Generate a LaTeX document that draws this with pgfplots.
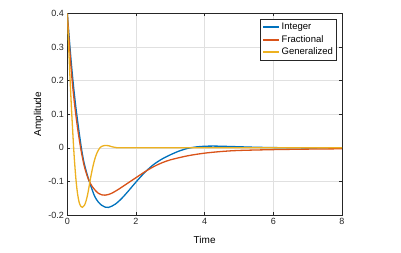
\documentclass[border=0pt]{standalone}
\usepackage{pgfplots}
\pgfplotsset{compat=1.18}
\usepackage{fontspec}
\setmainfont{Liberation Sans}
\definecolor{mblue}{rgb}{0,0.447,0.741}
\definecolor{mred}{rgb}{0.85,0.325,0.098}
\definecolor{myellow}{rgb}{0.929,0.694,0.125}
\definecolor{maxis}{rgb}{0.15,0.15,0.15}
\begin{document}
\begin{tikzpicture}
\path[use as bounding box] (0,0) rectangle (401pt,252pt);
\begin{axis}[
  at={(67.3pt,37pt)}, anchor=south west,
  width=274.7pt, height=201.7pt, scale only axis,
  xmin=0, xmax=8, ymin=-0.2, ymax=0.4,
  xtick={0,2,4,6,8},
  ytick={-0.2,-0.1,0,0.1,0.2,0.3,0.4},
  yticklabels={-0.2,-0.1,0,0.1,0.2,0.3,0.4},
  xticklabels={0,2,4,6,8},
  tick align=inside, major tick length=3pt,
  xtick pos=both, ytick pos=both,
  grid=major,
  major grid style={draw=black!12, line width=0.5pt},
  axis line style={draw=maxis, line width=0.6pt},
  tick style={draw=maxis, line width=0.5pt},
  tick label style={font=\fontsize{9}{10}\selectfont, text=maxis},
  xlabel={Time}, ylabel={Amplitude},
  label style={font=\fontsize{10}{12}\selectfont},
  xlabel style={at={(axis description cs:0.5,-0.124)}, anchor=center},
  ylabel style={at={(axis description cs:-0.105,0.5)}, anchor=center},
  legend style={at={(rel axis cs:0.982,0.97)}, anchor=north east,
    draw=maxis, fill=white, line width=0.6pt,
    font=\fontsize{9.5}{11}\selectfont, inner sep=1.8pt,
    row sep=0pt},
  legend image code/.code={\draw[#1, line width=2pt] (0cm,0cm) -- (0.55cm,0cm);},
  legend cell align=left,
]
\addplot[draw=mblue, line width=1.3pt, smooth] coordinates {
(0,0.4) (0.05,0.335) (0.1,0.272) (0.15,0.215) (0.2,0.165) (0.25,0.12) (0.3,0.08) (0.35,0.042) (0.4,0.006) (0.45,-0.025) (0.5,-0.05) (0.6,-0.087) (0.7,-0.118) (0.8,-0.145) (0.9,-0.161) (1.0,-0.171) (1.1,-0.1765) (1.2,-0.1775) (1.3,-0.1735) (1.4,-0.1675) (1.5,-0.159) (1.6,-0.149) (1.75,-0.132) (2.0,-0.102) (2.25,-0.074) (2.5,-0.051) (2.75,-0.034) (3.0,-0.021) (3.25,-0.01) (3.5,-0.002) (3.75,0.0025) (4.0,0.0045) (4.25,0.005) (4.5,0.0045) (5.0,0.003) (5.5,0.0015) (6.0,0.0005) (6.5,0) (7.0,-0.0003) (8.0,0)
};
\addlegendentry{Integer}
\addplot[draw=mred, line width=1.3pt, smooth] coordinates {
(0,0.4) (0.05,0.322) (0.1,0.25) (0.15,0.19) (0.2,0.14) (0.25,0.097) (0.3,0.058) (0.35,0.024) (0.4,-0.007) (0.45,-0.034) (0.5,-0.057) (0.6,-0.09) (0.7,-0.111) (0.8,-0.125) (0.9,-0.135) (1.0,-0.14) (1.1,-0.141) (1.2,-0.139) (1.3,-0.135) (1.5,-0.123) (1.75,-0.106) (2.0,-0.089) (2.25,-0.072) (2.5,-0.057) (2.75,-0.045) (3.0,-0.036) (3.5,-0.024) (4.0,-0.016) (4.5,-0.011) (5.0,-0.008) (6.0,-0.0055) (7.0,-0.004) (8.0,-0.003)
};
\addlegendentry{Fractional}
\addplot[draw=myellow, line width=1.3pt, smooth] coordinates {
(0,0.4) (0.04,0.3) (0.08,0.205) (0.12,0.12) (0.16,0.045) (0.2,-0.025) (0.25,-0.092) (0.3,-0.138) (0.35,-0.164) (0.4,-0.175) (0.44,-0.177) (0.5,-0.171) (0.55,-0.157) (0.6,-0.135) (0.66,-0.1) (0.7,-0.078) (0.75,-0.054) (0.8,-0.034) (0.85,-0.019) (0.9,-0.008) (0.95,0) (1.0,0.004) (1.1,0.007) (1.2,0.0062) (1.3,0.003) (1.4,0.001) (1.5,0) (2,0) (3,0) (4,0) (5,0) (6,0) (7,0) (8,0)
};
\addlegendentry{Generalized}
\end{axis}
\end{tikzpicture}
\end{document}
